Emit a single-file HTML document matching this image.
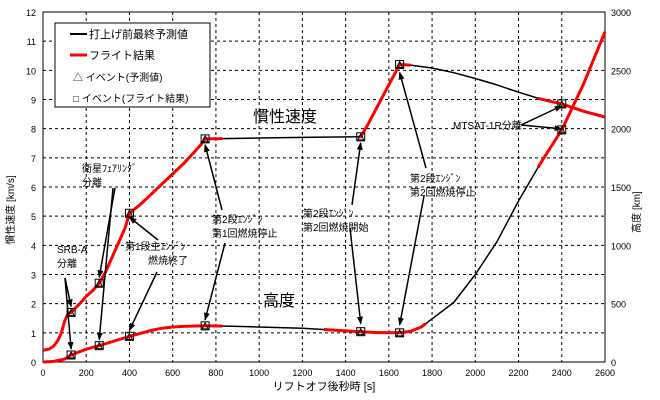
<!DOCTYPE html>
<html><head><meta charset="utf-8"><style>
body{margin:0;background:#fff;}
svg{display:block;font-family:"Liberation Sans","Noto Sans CJK JP",sans-serif;}
</style></head><body>
<svg id="chart" width="660" height="400" viewBox="0 0 660 400">
<defs><marker id="ah" markerWidth="8" markerHeight="8" refX="7" refY="4" orient="auto" markerUnits="userSpaceOnUse"><path d="M0,1 L8,4 L0,7 z" fill="#000"/></marker></defs>
<g id="grid"></g>
<g id="axes"></g>
<g id="series"></g>
<g id="events"></g>
<g id="annot" font-size="10"></g>
<text x="324" y="390" font-size="11" text-anchor="middle">リフトオフ後秒時 [s]</text>
<text transform="translate(14,210) rotate(-90)" font-size="10" text-anchor="middle">慣性速度 [km/s]</text>
<text transform="translate(640,212) rotate(-90)" font-size="10" text-anchor="middle">高度 [km]</text>
<text x="285" y="122" font-size="16" text-anchor="middle">慣性速度</text>
<text x="279" y="306" font-size="16" text-anchor="middle">高度</text>
<g>
<rect x="55" y="23" width="155" height="84" fill="#fff" stroke="#000"/>
<line x1="70" y1="34" x2="87" y2="34" stroke="#000" stroke-width="2"/>
<text x="89" y="38" font-size="11">打上げ前最終予測値</text>
<line x1="70" y1="55" x2="87" y2="55" stroke="#f00" stroke-width="3"/>
<text x="89" y="59" font-size="11">フライト結果</text>
<text x="73" y="81" font-size="10">△  イベント(予測値)</text>
<text x="73" y="102" font-size="10">□  イベント(フライト結果)</text>
</g>
</svg>
<script>
const xTicks=[0,200,400,600,800,1000,1200,1400,1600,1800,2000,2200,2400,2600];
const yTicks=[0,1,2,3,4,5,6,7,8,9,10,11,12];
const y2Ticks=[0,500,1000,1500,2000,2500,3000];
const velT=[0,30,50,70,85,100,115,130,170,200,230,260,290,320,350,380,400,450,500,550,600,650,700,730,750,830,1000,1200,1470,1500,1550,1600,1650,1700,1800,1900,2000,2100,2200,2300,2400,2500,2600];
const velV=[0.4,0.45,0.55,0.75,1.0,1.4,1.65,1.7,2.0,2.25,2.45,2.7,3.1,3.6,4.1,4.6,5.1,5.4,5.75,6.1,6.45,6.8,7.2,7.45,7.65,7.66,7.68,7.7,7.72,8.1,8.8,9.5,10.2,10.18,10.08,9.92,9.72,9.5,9.25,9.02,8.85,8.6,8.4];
const altT=[0,50,100,130,200,260,330,400,450,500,550,600,650,750,900,1200,1470,1550,1650,1700,1750,1800,1900,2000,2100,2200,2300,2400,2500,2600];
const altH=[0,5,25,60,110,140,180,220,245,270,290,300,305,310,305,290,260,252,250,262,300,370,510,750,1030,1380,1700,1990,2380,2830];
const velRed=[[0,830],[1460,1700],[2290,2600]];
const altRed=[[0,830],[1300,1770],[2290,2600]];
const eventT=[130,260,400,750,1470,1650,2400];
const NS="http://www.w3.org/2000/svg";
const X0=43,X1=605,Y0=362,Y1=12;
const xs=t=>X0+(t/2600)*(X1-X0);
const yv=v=>Y0-(v/12)*(Y0-Y1);
const ya=a=>Y0-(a/3000)*(Y0-Y1);
function mk(tag,attrs,parent){const e=document.createElementNS(NS,tag);for(const k in attrs)e.setAttribute(k,attrs[k]);parent.appendChild(e);return e;}
function interp(T,V,t){for(let i=0;i<T.length-1;i++){if(t>=T[i]&&t<=T[i+1]){return V[i]+(V[i+1]-V[i])*(t-T[i])/(T[i+1]-T[i]);}}return V[V.length-1];}
const grid=document.getElementById('grid'),axes=document.getElementById('axes'),series=document.getElementById('series'),ev=document.getElementById('events'),an=document.getElementById('annot');
xTicks.forEach(t=>{if(t>0&&t<2600){const l=mk('line',{x1:xs(t),x2:xs(t),y1:Y1,y2:Y0,stroke:'#000','stroke-dasharray':'3,3','stroke-width':1},grid);

}
const tx=mk('text',{x:xs(t),y:376,'font-size':9,'text-anchor':'middle'},axes);tx.textContent=t;

});
yTicks.forEach(v=>{if(v>0&&v<12){const l=mk('line',{x1:X0,x2:X1,y1:yv(v),y2:yv(v),stroke:'#000','stroke-dasharray':'3,3','stroke-width':1},grid);

}
const tx=mk('text',{x:36,y:yv(v)+4,'font-size':9,'text-anchor':'end'},axes);tx.textContent=v;

});
y2Ticks.forEach(a=>{const tx=mk('text',{x:611,y:ya(a)+4,'font-size':9},axes);tx.textContent=a;

});
const fr=mk('rect',{x:X0,y:Y1,width:X1-X0,height:Y0-Y1,fill:'none',stroke:'#000'},axes);


function path(T,V,f,a,b){let d='';let first=true;const pts=T.filter(t=>t>a&&t<b);[a,...pts,b].forEach(t=>{d+=(first?'M':'L')+xs(t).toFixed(1)+','+f(interp(T,V,t)).toFixed(1);first=false;});return d;}
[['vel',velT,velV,yv,velRed],['alt',altT,altH,ya,altRed]].forEach(([n,T,V,f,R])=>{
const p=mk('path',{d:path(T,V,f,0,2600),fill:'none',stroke:'#000','stroke-width':1.5,'stroke-linejoin':'round'},series);


R.forEach(([a,b])=>{const q=mk('path',{d:path(T,V,f,a,b),fill:'none',stroke:'#f00','stroke-width':3,'stroke-linejoin':'round'},series);

});});
eventT.forEach(t=>{[yv(interp(velT,velV,t)),ya(interp(altT,altH,t))].forEach(y=>{const x=xs(t);
const r=mk('rect',{x:x-4,y:y-4,width:8,height:8,fill:'none',stroke:'#000'},ev);


mk('path',{d:`M${x-3},${y+3}L${x},${y-3}L${x+3},${y+3}z`,fill:'none',stroke:'#000'},ev);});});
function arrow(x1,y1,t,f,dy){const l=mk('line',{x1:x1,y1:y1,x2:xs(t),y2:f+dy,stroke:'#000','stroke-width':1.5,'marker-end':'url(#ah)'},an);

}
function label(x,y,lines){lines.forEach((s,i)=>{const tx=mk('text',{x:x,y:y+i*14},an);tx.textContent=s;

});}
label(57,253,['SRB-A','分離']);
arrow(65,278,130,yv(interp(velT,velV,130)),-6);arrow(65,278,130,ya(interp(altT,altH,130)),-6);
label(82,172,['衛星ﾌｪｱﾘﾝｸﾞ','分離']);
arrow(115,188,260,yv(interp(velT,velV,260)),-6);arrow(113,188,260,ya(interp(altT,altH,260)),-6);
label(125,250,['第1段主ｴﾝｼﾞﾝ']);label(148,264,['燃焼終了']);
arrow(158,240,400,yv(interp(velT,velV,400)),4);arrow(157,272,400,ya(interp(altT,altH,400)),-6);
label(212,223,['第2段ｴﾝｼﾞﾝ','第1回燃焼停止']);
arrow(222,210,750,yv(interp(velT,velV,750)),6);arrow(225,243,750,ya(interp(altT,altH,750)),-6);
label(303,217,['第2段ｴﾝｼﾞﾝ','第2回燃焼開始']);
arrow(352,205,1470,yv(interp(velT,velV,1470)),6);arrow(350,228,1470,ya(interp(altT,altH,1470)),-8);
label(410,182,['第2段ｴﾝｼﾞﾝ','第2回燃焼停止']);
arrow(426,168,1650,yv(interp(velT,velV,1650)),8);arrow(424,196,1650,ya(interp(altT,altH,1650)),-8);
label(453,129,['MTSAT-1R分離']);
arrow(521,125,2400,yv(interp(velT,velV,2400)),2);arrow(521,125,2400,ya(interp(altT,altH,2400)),-1);
</script>
</body></html>
